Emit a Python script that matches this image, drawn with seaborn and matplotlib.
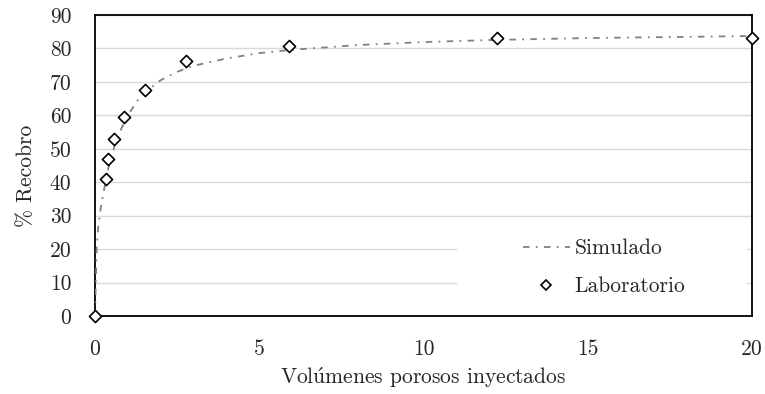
import matplotlib
matplotlib.use("Agg")
import matplotlib.pyplot as plt
from matplotlib.lines import Line2D
from matplotlib.patches import Rectangle
import seaborn as sns
import pandas as pd

# Simulated recovery curve
sim_pv = [0, 0.05, 0.1, 0.2, 0.3, 0.4, 0.6, 0.8, 1.0, 1.3, 1.6, 2.0, 2.5, 3.0,
          4.0, 5.0, 6.0, 8.0, 10.0, 12.0, 15.0, 20.0]
sim_rec = [0, 20, 27, 34, 39, 44, 51, 56, 60, 64.5, 67.5, 70.5, 73, 74.8,
           77, 78.6, 79.6, 81, 81.9, 82.5, 83.1, 83.7]

# Laboratory measurements
lab_pv = [0, 0.33, 0.40, 0.57, 0.87, 1.53, 2.77, 5.92, 12.24, 20.0]
lab_rec = [0, 40.9, 46.9, 52.8, 59.4, 67.6, 76.3, 80.7, 83.1, 83.1]

x_ticks = [0, 5, 10, 15, 20]
y_ticks = [0, 10, 20, 30, 40, 50, 60, 70, 80, 90]

sns.set_style("white")
plt.rcParams["font.family"] = ["cmr10", "DejaVu Serif"]
plt.rcParams["axes.formatter.use_mathtext"] = True
plt.rcParams["mathtext.fontset"] = "cm"

FS = 15.5

sim_df = pd.DataFrame({"pv": sim_pv, "rec": sim_rec})
lab_df = pd.DataFrame({"pv": lab_pv, "rec": lab_rec})

fig = plt.figure(figsize=(7.65, 3.94), dpi=100)
ax = fig.add_axes([0.1242, 0.198, 0.8588, 0.764])

line_color = "#808080"
dash_style = (0, (3.6, 3.5, 1.0, 3.5))

sns.lineplot(data=sim_df, x="pv", y="rec", ax=ax, color=line_color,
             linewidth=1.3, linestyle=dash_style, sort=False, zorder=3)
sns.scatterplot(data=lab_df, x="pv", y="rec", ax=ax, marker="D", s=38,
                facecolor="white", edgecolor="black", linewidth=1.2,
                zorder=4, clip_on=False)

ax.set_xlim(0, 20)
ax.set_ylim(0, 90)
ax.set_xticks(x_ticks)
ax.set_yticks(y_ticks)
ax.set_xticklabels([str(v) for v in x_ticks])
ax.set_yticklabels([str(v) for v in y_ticks])
ax.yaxis.grid(True, color="#d9d9d9", linewidth=1.0)
ax.xaxis.grid(False)
ax.set_axisbelow(True)
for sp in ax.spines.values():
    sp.set_visible(True)
    sp.set_color("black")
    sp.set_linewidth(1.3)

ax.tick_params(axis="both", length=0, labelsize=FS)
ax.tick_params(axis="y", pad=17)
ax.tick_params(axis="x", pad=17)

ax.set_xlabel(r"Vol$\acute{\mathrm{u}}$menes porosos inyectados",
              fontsize=FS, labelpad=4)
ax.set_ylabel("% Recobro", fontsize=FS, labelpad=8)
ax.yaxis.set_label_coords(-0.090, 0.465)

# white background panel behind the legend entries
ax.add_patch(Rectangle((0.551, 0.053), 0.441, 0.24, transform=ax.transAxes,
                       facecolor="white", edgecolor="none", zorder=1.5))

handles = [
    Line2D([], [], color=line_color, linewidth=1.3, linestyle=dash_style),
    Line2D([], [], color="black", marker="D", markersize=5.2,
           markerfacecolor="white", markeredgewidth=1.2, linestyle="none"),
]
leg = ax.legend(handles, ["Simulado", "Laboratorio"], loc="upper left",
                bbox_to_anchor=(0.651, 0.256), fontsize=FS, frameon=False,
                handlelength=2.2, handletextpad=0.2, labelspacing=0.85,
                borderpad=0, borderaxespad=0)

fig.savefig("out.png", dpi=100)
